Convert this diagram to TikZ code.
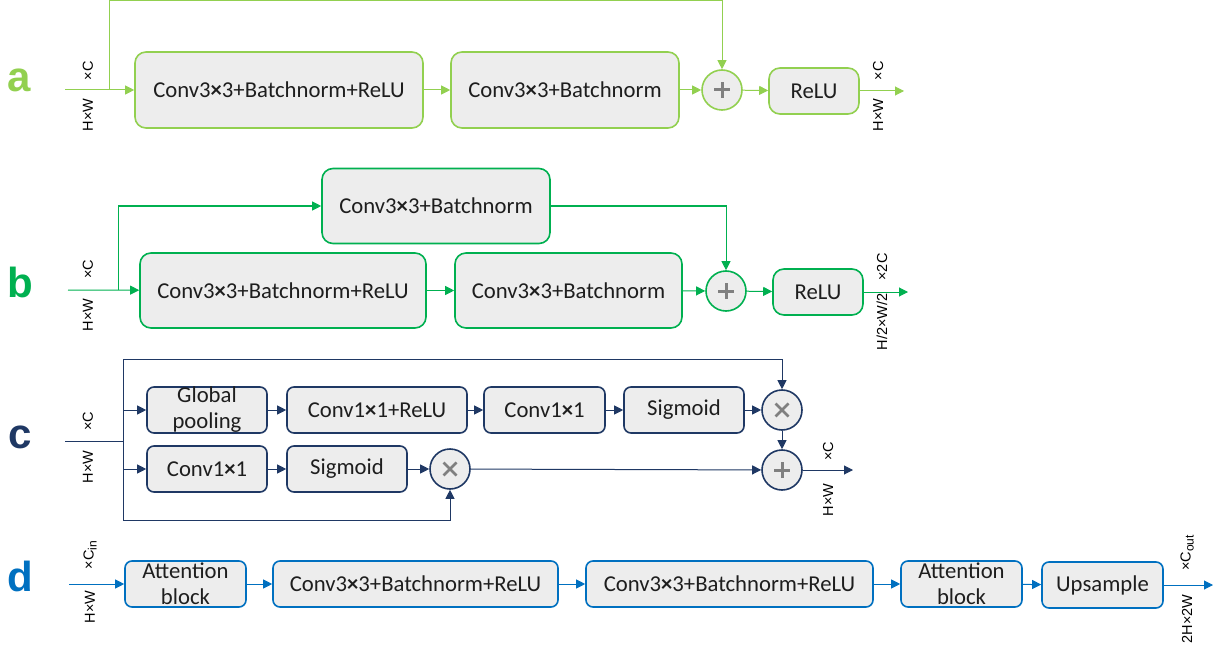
\documentclass[tikz,border=0pt]{standalone}
\usepackage{fontspec}
\setmainfont{Carlito}
\newfontfamily\arialf{Liberation Sans}
\usetikzlibrary{arrows.meta}
\definecolor{cA}{HTML}{92D050}
\definecolor{cB}{HTML}{00B050}
\definecolor{cC}{HTML}{1F3864}
\definecolor{cD}{HTML}{0070C0}
\definecolor{boxfill}{HTML}{EDEDED}
\definecolor{txt}{HTML}{1E1E1E}
\definecolor{sym}{HTML}{808080}
\newcommand\bx{{\bfseries ×}}
\newcommand\subtx[1]{\raisebox{-3pt}{\fontsize{12}{12}\selectfont #1}}
\tikzset{
  blk/.style={draw, fill=boxfill, line width=1.6pt, inner sep=0pt, text=txt,
    font=\fontsize{22.7}{26}\selectfont, align=center},
  blkA/.style={blk, draw=cA, rounded corners=11pt},
  blkB/.style={blk, draw=cB, rounded corners=11pt},
  blkC/.style={blk, draw=cC, rounded corners=7pt},
  blkD/.style={blk, draw=cD, rounded corners=7pt},
  opnode/.style={circle, fill=boxfill, line width=1.6pt, minimum size=40pt, inner sep=0pt},
  plusop/.style={opnode, path picture={
      \draw[sym, line width=3pt] ([xshift=-8pt]path picture bounding box.center) -- ([xshift=8pt]path picture bounding box.center);
      \draw[sym, line width=3pt] ([yshift=-8pt]path picture bounding box.center) -- ([yshift=8pt]path picture bounding box.center);}},
  timesop/.style={opnode, path picture={
      \draw[sym, line width=2.6pt] ([shift={(-6.5pt,-6.5pt)}]path picture bounding box.center) -- ([shift={(6.5pt,6.5pt)}]path picture bounding box.center);
      \draw[sym, line width=2.6pt] ([shift={(-6.5pt,6.5pt)}]path picture bounding box.center) -- ([shift={(6.5pt,-6.5pt)}]path picture bounding box.center);}},
  arr/.style={-{Triangle[length=9pt,width=9pt]}, line width=1pt},
  ln/.style={line width=1pt},
  dimlab/.style={font=\arialf\fontsize{14.5}{15}\selectfont, rotate=90, inner sep=0pt, text=black},
  rowlet/.style={font=\arialf\bfseries\fontsize{42}{42}\selectfont, inner sep=0pt},
}
\begin{document}
\begin{tikzpicture}[x=1pt,y=-1pt]
\useasboundingbox (0,0) rectangle (1220,655);

% ---------------- row a ----------------
\node[rowlet, text=cA] (la) at (19,80) {a};
\coordinate (ina) at (65,90);
\coordinate (ja) at (109,90);
\coordinate (ta) at (109,1);
\node[blkA, minimum width=288pt, minimum height=76pt] (a1) at (279,90) {Conv3\bx3+Batchnorm+ReLU};
\node[blkA, minimum width=228pt, minimum height=76pt] (a2) at (565,90) {Conv3\bx3+Batchnorm};
\node[plusop, draw=cA] (pa) at (722,90) {};
\node[blkA, minimum width=90pt, minimum height=46pt] (ra) at (814,91) {ReLU};
\coordinate (outa) at (904,91);
\draw[arr, cA] (ina) -- (a1);
\draw[arr, cA] (ja) -- (ta) -| (pa.north);
\draw[arr, cA] (a1) -- (a2);
\draw[arr, cA] (a2) -- (pa);
\draw[arr, cA] (pa) -- (ra);
\draw[arr, cA] (ra) -- (outa);
\node[dimlab] (a_c) at (88,71) {×C};
\node[dimlab] (a_hw) at (88,115) {H×W};
\node[dimlab] (a_c2) at (878,71) {×C};
\node[dimlab] (a_hw2) at (878,115) {H×W};

% ---------------- row b ----------------
\node[rowlet, text=cB] (lb) at (20,282) {b};
\coordinate (inb) at (68,290);
\coordinate (jb) at (118,290);
\coordinate (tb) at (118,206);
\node[blkB, minimum width=286pt, minimum height=75pt] (b1) at (283,290.5) {Conv3\bx3+Batchnorm+ReLU};
\node[blkB, minimum width=227pt, minimum height=75pt] (b2) at (568.5,290.5) {Conv3\bx3+Batchnorm};
\node[blkB, minimum width=228pt, minimum height=75pt] (bt) at (436,206) {Conv3\bx3+Batchnorm};
\node[plusop, draw=cB] (pb) at (726,291) {};
\node[blkB, minimum width=90pt, minimum height=46pt] (rb) at (818,292) {ReLU};
\coordinate (outb) at (908,292);
\draw[arr, cB] (inb) -- (b1);
\draw[arr, cB] (jb) -- (tb) -- (bt);
\draw[arr, cB] (bt) -| (pb.north);
\draw[arr, cB] (b1) -- (b2);
\draw[arr, cB] (b2) -- (pb);
\draw[arr, cB] (pb) -- (rb);
\draw[arr, cB] (rb) -- (outb);
\node[dimlab] (b_c) at (88,269) {×C};
\node[dimlab] (b_hw) at (88,315) {H×W};
\node[dimlab] (b_c2) at (882,267) {×2C};
\node[dimlab] (b_hw2) at (882,322) {H/2×W/2};

% ---------------- row c ----------------
\node[rowlet, text=cC] (lc) at (20,437) {c};
\coordinate (inc) at (65,441);
\coordinate (jc) at (123,441);
\coordinate (jctop) at (123,359);
\coordinate (jcbot) at (123,520);
\coordinate (jg) at (123,410);
\coordinate (jh) at (123,469);
\node[blkC, minimum width=120pt, minimum height=46pt] (gp) at (207,410) {Global\\pooling};
\node[blkC, minimum width=180pt, minimum height=46pt] (cr) at (377,410) {Conv1\bx1+ReLU};
\node[blkC, minimum width=121pt, minimum height=46pt] (c1) at (544.5,410) {Conv1\bx1};
\node[blkC, minimum width=120pt, minimum height=46pt] (sg) at (684,410) {Sigmoid};
\node[timesop, draw=cC] (x1) at (782,410) {};
\node[blkC, minimum width=120pt, minimum height=46pt] (c1b) at (207,469) {Conv1\bx1};
\node[blkC, minimum width=120pt, minimum height=46pt] (sgb) at (347,469) {Sigmoid};
\node[timesop, draw=cC] (xb) at (450,469) {};
\node[plusop, draw=cC] (pc) at (782,470) {};
\coordinate (outc) at (853,470);
\draw[ln, cC] (inc) -- (jc);
\draw[ln, cC] (jctop) -- (jcbot);
\draw[arr, cC] (jctop) -| (x1.north);
\draw[arr, cC] (jcbot) -| (xb.south);
\draw[arr, cC] (jg) -- (gp);
\draw[arr, cC] (jh) -- (c1b);
\draw[arr, cC] (gp) -- (cr);
\draw[arr, cC] (cr) -- (c1);
\draw[arr, cC] (c1) -- (sg);
\draw[arr, cC] (sg) -- (x1);
\draw[arr, cC] (x1) -- (pc);
\draw[arr, cC] (c1b) -- (sgb);
\draw[arr, cC] (sgb) -- (xb);
\draw[arr, cC] (xb) -- (pc);
\draw[arr, cC] (pc) -- (outc);
\node[dimlab] (c_c) at (88,421) {×C};
\node[dimlab] (c_hw) at (88,467) {H×W};
\node[dimlab] (c_c2) at (828,451) {×C};
\node[dimlab] (c_hw2) at (828,500) {H×W};

% ---------------- row d ----------------
\node[rowlet, text=cD] (ld) at (20,576) {d};
\coordinate (ind) at (69,584);
\node[blkD, minimum width=121pt, minimum height=46pt] (d1) at (185.5,584) {Attention\\block};
\node[blkD, minimum width=285pt, minimum height=46pt] (d2) at (415.5,584) {Conv3\bx3+Batchnorm+ReLU};
\node[blkD, minimum width=287pt, minimum height=46pt] (d3) at (729.5,584) {Conv3\bx3+Batchnorm+ReLU};
\node[blkD, minimum width=121pt, minimum height=46pt] (d4) at (961.5,584) {Attention\\block};
\node[blkD, minimum width=121pt, minimum height=46pt] (d5) at (1102.5,585) {Upsample};
\coordinate (outd) at (1213,585);
\draw[arr, cD] (ind) -- (d1);
\draw[arr, cD] (d1) -- (d2);
\draw[arr, cD] (d2) -- (d3);
\draw[arr, cD] (d3) -- (d4);
\draw[arr, cD] (d4) -- (d5);
\draw[arr, cD] (d5) -- (outd);
\node[dimlab] (d_c) at (90,555) {×C\subtx{in}};
\node[dimlab] (d_hw) at (90,607) {H×W};
\node[dimlab] (d_c2) at (1187,553) {×C\subtx{out}};
\node[dimlab] (d_hw2) at (1187,619) {2H×2W};
\end{tikzpicture}
\end{document}
